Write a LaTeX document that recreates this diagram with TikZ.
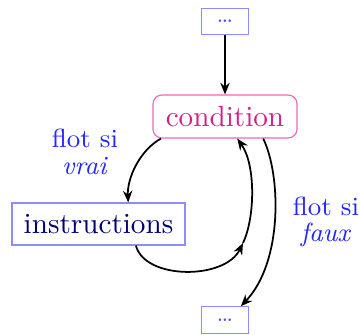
\documentclass[tikz,border=0pt]{standalone}
\usetikzlibrary{arrows.meta}
\begin{document}
\begin{tikzpicture}[x=0.3425pt,y=-0.3425pt,
  block/.style={draw=blue!45, thin, text=blue!45!black, inner sep=0pt,
    minimum width=59.2pt, minimum height=14.4pt},
  etc/.style={draw=blue!45, thin, text=blue!70, inner sep=0pt,
    minimum width=16pt, minimum height=9pt, font=\footnotesize},
  test/.style={draw=magenta!60, thin, rounded corners=3pt, text=magenta!85!black,
    inner sep=0pt, minimum width=49.3pt, minimum height=14.7pt},
  flow/.style={semithick, -{Stealth[length=4pt,width=3.2pt]}},
  lbl/.style={text=blue!85, font=\small, align=center}]
\useasboundingbox (0,0) rectangle (360,334);

% blocks
\node[etc]   (top)   at (225,21.5) {\dots};
\node[test]  (cond)  at (225,116.5) {condition};
\node[block] (instr) at (98.5,224) {instructions};
\node[etc]   (bot)   at (225,320) {\dots};
\coordinate (m) at (243,243);

% labels of the two branches
\node[lbl] (lv) at (85,152) {flot si\\[-2pt]\emph{vrai}};
\node[lbl] (lf) at (326,222) {flot si\\[-2pt]\emph{faux}};

% connectors
\draw[flow] (top.south) -- (cond.north);
\draw[flow] (cond.199) .. controls (140,150) and (127,178) .. (instr.36);
\draw[flow] (instr.-30) .. controls (145,280) and (225,280) .. (m);
\draw[flow] (m) .. controls (255,218) and (256,165) .. (cond.-61);
\draw[flow] (cond.-30) .. controls (281,175) and (283,262) .. (bot.41);
\end{tikzpicture}
\end{document}
